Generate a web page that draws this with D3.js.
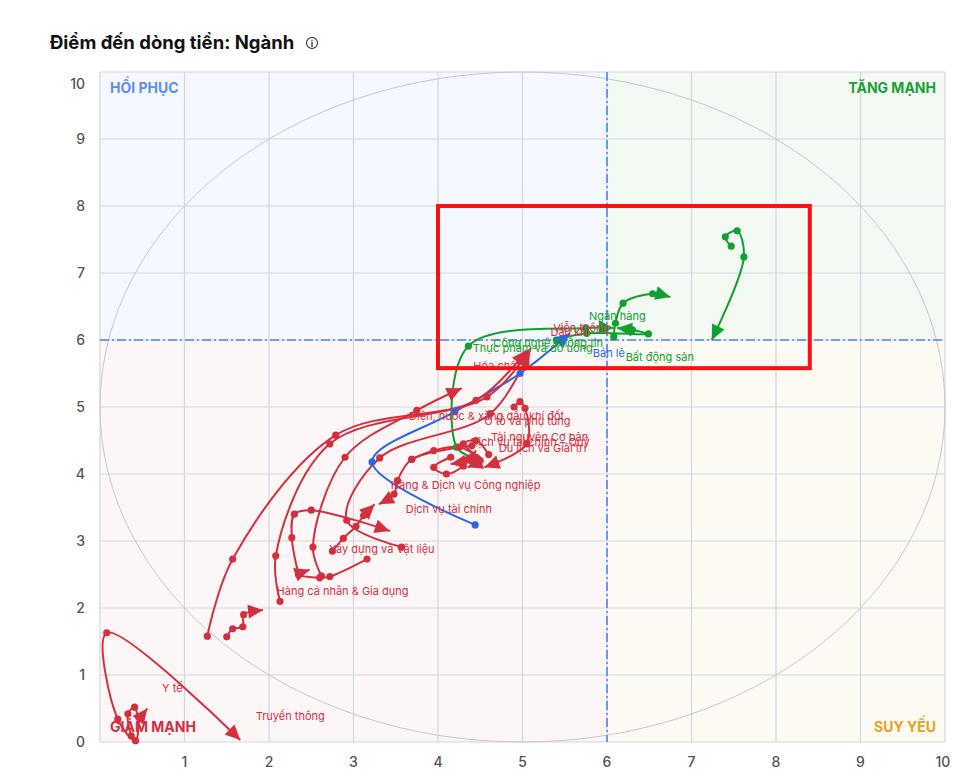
<!DOCTYPE html>
<html>
<head>
<meta charset="utf-8">
<script src="https://cdn.jsdelivr.net/npm/d3@7"></script>
<style>
  body { margin: 0; background: #fff; font-family: Inter, "Noto Sans", sans-serif; }
</style>
</head>
<body>
<svg id="chart" width="972" height="783"></svg>
<script>
var sectors = [
    "Bất động sản", "Ngân hàng", "Công nghệ Thông tin", "Thực phẩm và đồ uống",
    "Bán lẻ", "Viễn thông", "Dầu khí", "Hóa chất", "Điện, nước & xăng dầu khí đốt",
    "Ô tô và phụ tùng", "Tài nguyên Cơ bản", "Dịch vụ tài chính – Quỹ",
    "Du lịch và Giải trí", "Hàng & Dịch vụ Công nghiệp", "Dịch vụ tài chính",
    "Xây dựng và Vật liệu", "Hàng cá nhân & Gia dụng", "Y tế", "Truyền thông", "Bảo hiểm"
];

// group of each sector: tang = green, hoi = blue, giam = red
var groups = [
    "tang", "tang", "tang", "tang",
    "hoi", "giam", "giam", "giam", "giam",
    "giam", "giam", "giam",
    "giam", "giam", "giam",
    "giam", "giam", "giam", "giam", "giam"
];

// trail of [x, y] per sector, oldest first, last point = current position
var trails = [
    [[7.47, 7.40], [7.40, 7.54], [7.54, 7.63], [7.62, 7.24], [7.24, 6.00]],
    [[6.08, 6.05], [6.10, 6.25], [6.19, 6.55], [6.54, 6.69], [6.75, 6.64]],
    [[5.40, 6.00], [5.76, 6.10], [6.49, 6.09], [6.30, 6.15], [6.12, 6.18]],
    [[4.47, 4.23], [4.22, 4.40], [4.36, 5.91], [5.75, 6.18], [6.08, 6.18]],
    [[4.44, 3.24], [3.22, 4.18], [4.20, 4.93], [4.97, 5.50], [5.56, 6.10]],
    [[3.57, 2.91], [2.92, 3.31], [3.31, 4.24], [4.62, 4.90], [5.08, 5.82]],
    [[2.13, 2.10], [2.08, 2.78], [2.72, 4.45], [4.58, 5.15], [5.10, 5.88]],
    [[1.27, 1.58], [1.57, 2.73], [2.79, 4.58], [4.45, 5.10], [5.05, 5.85]],
    [[2.62, 2.48], [2.52, 2.91], [2.90, 4.25], [3.75, 4.95], [4.28, 5.28]],
    [[4.90, 5.00], [4.97, 5.08], [5.03, 4.98], [5.05, 4.45], [4.55, 4.10]],
    [[4.60, 4.29], [4.45, 4.50], [4.30, 4.45], [4.45, 4.25], [4.15, 4.15]],
    [[4.15, 4.25], [3.95, 4.10], [4.10, 4.00], [4.30, 4.12], [4.45, 4.35]],
    [[3.69, 4.22], [3.95, 4.35], [4.25, 4.40], [4.50, 4.20], [4.35, 4.10]],
    [[2.75, 2.85], [2.88, 3.04], [3.03, 3.22], [3.12, 3.38], [3.25, 3.55]],
    [[4.40, 4.42], [3.69, 4.22], [3.52, 3.90], [3.48, 3.70], [3.30, 3.55]],
    [[2.35, 2.50], [2.27, 3.05], [2.30, 3.40], [2.50, 3.46], [3.43, 3.15]],
    [[3.16, 2.73], [2.72, 2.47], [2.60, 2.45], [2.35, 2.50], [2.48, 2.57]],
    [[0.37, 0.09], [0.33, 0.42], [0.41, 0.52], [0.46, 0.37], [0.56, 0.50]],
    [[0.46, 0.37], [0.42, 0.02], [0.21, 0.34], [0.08, 1.63], [1.66, 0.03]],
    [[1.50, 1.57], [1.57, 1.69], [1.69, 1.72], [1.70, 1.90], [1.93, 1.97]]
];

var xTicks = [1, 2, 3, 4, 5, 6, 7, 8, 9, 10];
var yTicks = [0, 1, 2, 3, 4, 5, 6, 7, 8, 9, 10];
var pivot = 6;
var highlight = [4.0, 8.4, 5.58, 8.0];   // x0, x1, y0, y1 of the red box

// layout only: label shift in px from the current point (null = hidden)
var labelShift = {
    "Bất động sản": [-52, 17], "Ngân hàng": [-53, 19], "Công nghệ Thông tin": [-69, 15],
    "Thực phẩm và đồ uống": [-81, 20], "Bán lẻ": [39, 20], "Viễn thông": [52, -24],
    "Dầu khí": [39, -16], "Hóa chất": [-30, 16], "Điện, nước & xăng dầu khí đốt": [25, 28],
    "Ô tô và phụ tùng": [43, -46], "Tài nguyên Cơ bản": [89, -27],
    "Dịch vụ tài chính – Quỹ": [54, -8], "Du lịch và Giải trí": [75, -19],
    "Hàng & Dịch vụ Công nghiệp": [91, -19], "Dịch vụ tài chính": [70, 5],
    "Xây dựng và Vật liệu": [-8, 18], "Hàng cá nhân & Gia dụng": [33, 21],
    "Y tế": [25, -20], "Truyền thông": [50, -24], "Bảo hiểm": null
};

var colors = { tang: "#12a02f", hoi: "#2867e6", giam: "#d3303f" };

(function draw() {
    var svg = d3.select("#chart"),
        pl = 100, pr = 945, pt = 72, pb = 742,
        x = d3.scaleLinear().domain([0, 10]).range([pl, pr]),
        y = d3.scaleLinear().domain([0, 10]).range([pb, pt]);

    // title
    svg.append("text")
        .attr("x", 50).attr("y", 49)
        .style("font-size", "18.5px").style("font-weight", 700).style("fill", "#111")
        .text("Điểm đến dòng tiền: Ngành");
    svg.append("circle").attr("cx", 312).attr("cy", 43).attr("r", 5.5)
        .style("fill", "none").style("stroke", "#333").style("stroke-width", 1.1);
    svg.append("text").attr("x", 312).attr("y", 46.5).attr("text-anchor", "middle")
        .style("font-size", "9px").style("font-weight", 700).style("fill", "#333").text("i");

    // quadrant backgrounds
    var quads = [
        { x0: 0, x1: pivot, y0: pivot, y1: 10, fill: "#f5f8fe" },
        { x0: pivot, x1: 10, y0: pivot, y1: 10, fill: "#f3faf4" },
        { x0: 0, x1: pivot, y0: 0, y1: pivot, fill: "#fcf6f7" },
        { x0: pivot, x1: 10, y0: 0, y1: pivot, fill: "#fdfaf4" }
    ];
    svg.selectAll("rect.quad").data(quads).enter().append("rect")
        .attr("class", "quad")
        .attr("x", function(d) { return x(d.x0); })
        .attr("y", function(d) { return y(d.y1); })
        .attr("width", function(d) { return x(d.x1) - x(d.x0); })
        .attr("height", function(d) { return y(d.y0) - y(d.y1); })
        .style("fill", function(d) { return d.fill; });

    // grid
    svg.append("g").selectAll("line").data(yTicks).enter().append("line")
        .attr("x1", pl).attr("x2", pr)
        .attr("y1", function(d) { return y(d); }).attr("y2", function(d) { return y(d); })
        .style("stroke", "#d2d6de").style("stroke-width", 1.2);
    svg.append("g").selectAll("line").data([0].concat(xTicks)).enter().append("line")
        .attr("y1", pt).attr("y2", pb)
        .attr("x1", function(d) { return x(d); }).attr("x2", function(d) { return x(d); })
        .style("stroke", "#d2d6de").style("stroke-width", 1.2);

    // reference circle
    svg.append("ellipse")
        .attr("cx", x(5)).attr("cy", y(5))
        .attr("rx", x(5) - x(0)).attr("ry", y(0) - y(5))
        .style("fill", "none").style("stroke", "#c3c7d0").style("stroke-width", 1);

    // pivot lines
    svg.append("line").attr("x1", x(pivot)).attr("x2", x(pivot)).attr("y1", pt).attr("y2", pb)
        .style("stroke", "#4d84f4").style("stroke-width", 1.6).style("stroke-dasharray", "9,3,2,3");
    svg.append("line").attr("x1", pl).attr("x2", pr).attr("y1", y(pivot)).attr("y2", y(pivot))
        .style("stroke", "#4d84f4").style("stroke-width", 1.6).style("stroke-dasharray", "9,3,2,3");

    // axis labels
    svg.append("g").selectAll("text").data(yTicks).enter().append("text")
        .attr("x", 85)
        .attr("y", function(d) { return d === 10 ? y(d) + 17 : y(d) + 5; })
        .attr("text-anchor", "end")
        .style("font-size", "14px").style("font-weight", 500).style("fill", "#555")
        .text(function(d) { return d; });
    svg.append("g").selectAll("text").data(xTicks).enter().append("text")
        .attr("x", function(d) { return d === 10 ? x(d) - 2 : x(d); })
        .attr("y", 767)
        .attr("text-anchor", "middle")
        .style("font-size", "14px").style("font-weight", 500).style("fill", "#555")
        .text(function(d) { return d; });

    // quadrant names
    var quadNames = [
        { t: "HỒI PHỤC", x: pl + 10, y: pt + 21, a: "start", c: "#5a8ef6" },
        { t: "TĂNG MẠNH", x: pr - 9, y: pt + 21, a: "end", c: "#1d9e36" },
        { t: "GIẢM MẠNH", x: pl + 10, y: pb - 10, a: "start", c: "#d3303f" },
        { t: "SUY YẾU", x: pr - 9, y: pb - 10, a: "end", c: "#e8a21a" }
    ];
    svg.append("g").selectAll("text").data(quadNames).enter().append("text")
        .attr("x", function(d) { return d.x; }).attr("y", function(d) { return d.y; })
        .attr("text-anchor", function(d) { return d.a; })
        .style("font-size", "14px").style("font-weight", 700)
        .style("fill", function(d) { return d.c; })
        .text(function(d) { return d.t; });

    // trails
    var line = d3.line()
        .x(function(p) { return x(p[0]); })
        .y(function(p) { return y(p[1]); })
        .curve(d3.curveCatmullRom.alpha(0.5));

    var series = sectors.map(function(name, i) {
        return { name: name, color: colors[groups[i]], pts: trails[i] };
    });

    var gLines = svg.append("g"),
        gMarks = svg.append("g"),
        gLabels = svg.append("g");

    series.forEach(function(s) {
        var path = gLines.append("path")
            .attr("d", line(s.pts))
            .style("fill", "none").style("stroke", s.color).style("stroke-width", 2);

        gMarks.selectAll(null).data(s.pts.slice(0, -1)).enter().append("circle")
            .attr("cx", function(p) { return x(p[0]); })
            .attr("cy", function(p) { return y(p[1]); })
            .attr("r", 3.6)
            .style("fill", s.color);

        // arrow head at current point, along the curve direction
        var node = path.node(),
            L = node.getTotalLength(),
            back = node.getPointAtLength(Math.max(0, L - 7)),
            last = s.pts[s.pts.length - 1],
            tx = x(last[0]), ty = y(last[1]),
            a = Math.atan2(ty - back.y, tx - back.x),
            len = 15, w = 7,
            bx = tx - len * Math.cos(a), by = ty - len * Math.sin(a);
        gMarks.append("path")
            .attr("d", "M" + tx + "," + ty +
                "L" + (bx + w * Math.sin(a)) + "," + (by - w * Math.cos(a)) +
                "L" + (bx - w * Math.sin(a)) + "," + (by + w * Math.cos(a)) + "Z")
            .style("fill", s.color);

        var sh = labelShift[s.name];
        if (sh) {
            gLabels.append("text")
                .attr("x", tx + sh[0]).attr("y", ty + sh[1])
                .attr("dy", "0.35em")
                .attr("text-anchor", "middle")
                .style("font-size", "11px")
                .style("fill", s.color)
                .text(s.name);
        }
    });

    // highlight box
    svg.append("rect")
        .attr("x", x(highlight[0])).attr("y", y(highlight[3]))
        .attr("width", x(highlight[1]) - x(highlight[0]))
        .attr("height", y(highlight[2]) - y(highlight[3]))
        .style("fill", "none").style("stroke", "#ff1010").style("stroke-width", 4);
})();
</script>
</body>
</html>
